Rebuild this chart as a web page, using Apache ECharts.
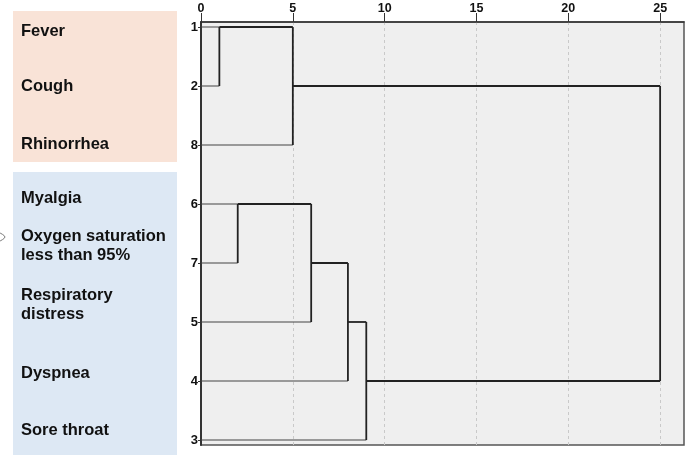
<!DOCTYPE html>
<html>
<head>
<meta charset="utf-8">
<script src="https://cdn.jsdelivr.net/npm/echarts@6/dist/echarts.min.js"></script>
<style>
  html, body { margin: 0; padding: 0; background: #fff; }
  #chart { width: 685px; height: 457px; }
</style>
</head>
<body>
<div id="chart"></div>
<script>
// case numbers, top to bottom, as printed on the dendrogram
const leafOrder = ["1", "2", "8", "6", "7", "5", "4", "3"];
// symptom names shown in the two coloured panels
const symptoms = ["Fever", "Cough", "Rhinorrhea", "Myalgia", "Oxygen saturation\nless than 95%",
  "Respiratory\ndistress", "Dyspnea", "Sore throat"];
// merges: [child a, child b, rescaled distance, row the new cluster continues on]
// leaves are nodes 0-7 (by row), every merge adds a node 8, 9, ...
const merges = [
  [0, 1, 1, 0],
  [8, 2, 5, 1],
  [3, 4, 2, 3],
  [10, 5, 6, 4],
  [11, 6, 8, 5],
  [12, 7, 9, 6],
  [9, 13, 25, 1],
];
const distanceTicks = [0, 5, 10, 15, 20, 25];

const nodes = leafOrder.map((_, i) => ({ h: 0, row: i }));
const leafLines = [];
const clusterLines = [];
merges.forEach(([a, b, d, row]) => {
  [a, b].forEach((c) => {
    const seg = { coords: [[nodes[c].h, nodes[c].row], [d, nodes[c].row]] };
    (c < leafOrder.length ? leafLines : clusterLines).push(seg);
  });
  clusterLines.push({ coords: [[d, nodes[a].row], [d, nodes[b].row]] });
  nodes.push({ h: d, row: row });
});

const chart = echarts.init(document.getElementById("chart"));
const font = "Liberation Sans, Arial, sans-serif";

// panel text positions (left column)
const textY = [31, 86, 144, 198, 246, 305, 373, 430];
const panelTexts = symptoms.map((s, i) => ({
  type: "text",
  left: 21,
  top: textY[i] - (s.indexOf("\n") >= 0 ? 19.5 : 9.75),
  style: {
    text: s,
    fontFamily: font,
    fontWeight: "bold",
    fontSize: 16.5,
    lineHeight: 19.5,
    fill: "#111",
  },
  z: 10,
}));

chart.setOption({
  animation: false,
  textStyle: { fontFamily: font },
  grid: {
    left: 201,
    right: 1,
    top: 22,
    bottom: 12,
    outerBoundsMode: "none",
    containLabel: false,
    show: true,
    backgroundColor: "#efefef",
    borderColor: "#555",
    borderWidth: 1.5,
  },
  xAxis: {
    type: "value",
    position: "top",
    min: 0,
    max: 26.3,
    interval: 5,
    axisLine: { show: true, onZero: false, lineStyle: { color: "#333", width: 1.5 } },
    axisTick: { show: true, length: 9, customValues: distanceTicks, lineStyle: { color: "#333" } },
    axisLabel: {
      color: "#111",
      fontWeight: "bold",
      fontSize: 12.5,
      margin: 7,
      customValues: distanceTicks,
    },
    splitLine: { show: true, lineStyle: { color: "#c9c9c9", type: [3, 3], width: 1 } },
  },
  yAxis: {
    type: "value",
    inverse: true,
    min: -0.085,
    max: 7.085,
    axisLine: { show: true, onZero: false, lineStyle: { color: "#333", width: 2 } },
    axisTick: { show: true, length: 3, customValues: leafOrder.map((_, i) => i), lineStyle: { color: "#333" } },
    axisLabel: {
      color: "#111",
      fontWeight: "bold",
      fontSize: 13,
      margin: 3,
      customValues: leafOrder.map((_, i) => i),
      formatter: (v) => leafOrder[Math.round(v)],
    },
    splitLine: { show: false },
  },
  graphic: [
    { type: "rect", shape: { x: 13, y: 11, width: 164, height: 151 }, style: { fill: "#f9e3d7" }, z: 1 },
    { type: "rect", shape: { x: 13, y: 172, width: 164, height: 283 }, style: { fill: "#dde8f4" }, z: 1 },
    {
      type: "polyline",
      shape: { points: [[0, 233], [5, 237], [0, 241]], smooth: 0.4 },
      style: { stroke: "#777", lineWidth: 1, fill: null },
      z: 1,
    },
    ...panelTexts,
  ],
  series: [
    {
      type: "lines",
      coordinateSystem: "cartesian2d",
      polyline: true,
      silent: true,
      lineStyle: { color: "#444", width: 1.2, opacity: 1 },
      data: leafLines,
    },
    {
      type: "lines",
      coordinateSystem: "cartesian2d",
      polyline: true,
      silent: true,
      lineStyle: { color: "#222", width: 1.8, opacity: 1 },
      data: clusterLines,
    },
  ],
});
</script>
</body>
</html>
